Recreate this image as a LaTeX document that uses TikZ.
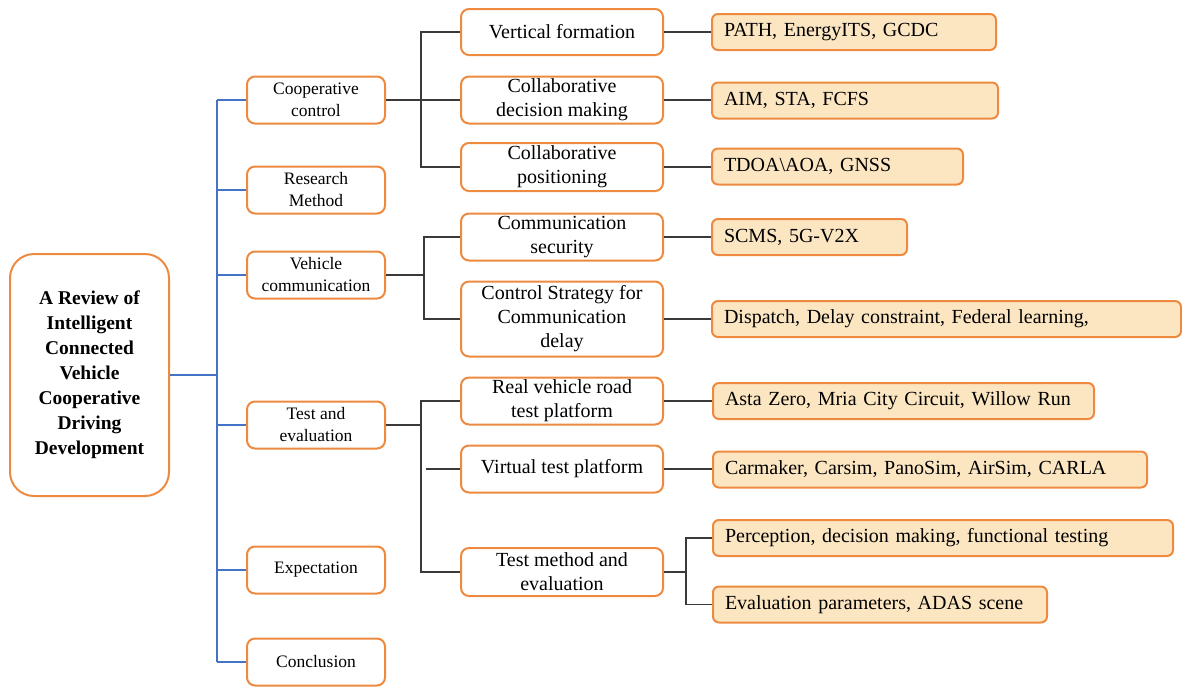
\documentclass[tikz,border=0pt]{standalone}
\usepackage{fontspec}
\setmainfont{Liberation Serif}[BoldFont={Liberation Serif Bold}]
\definecolor{borange}{HTML}{EE8A40}
\definecolor{pfill}{HTML}{FCE6C2}
\definecolor{bline}{HTML}{4472C4}
\definecolor{gline}{HTML}{3A3A3A}
\tikzset{
  rootbox/.style={draw=borange, line width=2pt, rounded corners=24pt, fill=white,
    minimum width=159pt, minimum height=242pt, align=center, inner sep=0pt,
    font=\rmfamily\fontsize{19.5}{25}\selectfont\bfseries},
  lonebox/.style={draw=borange, line width=2pt, rounded corners=8pt, fill=white,
    minimum width=138pt, minimum height=47pt, align=center, inner sep=0pt,
    font=\rmfamily\fontsize{17.5}{22}\selectfont},
  ltwobox/.style={draw=borange, line width=2pt, rounded corners=8pt, fill=white,
    minimum width=202pt, align=center, inner sep=0pt,
    font=\rmfamily\fontsize{20}{24}\selectfont},
  lthreebox/.style={draw=borange, line width=2pt, rounded corners=6pt, fill=pfill,
    minimum height=36pt, anchor=west, align=left, inner xsep=12pt, inner ysep=0pt,
    font=\rmfamily\fontsize{20}{24}\selectfont},
  bluecon/.style={draw=bline, line width=2pt},
  graycon/.style={draw=gline, line width=1.5pt},
}
\begin{document}
\begin{tikzpicture}[x=1pt, y=-1pt]
\useasboundingbox (0,0) rectangle (1182,688);

% root
\node[rootbox] (root) at (89.5,375) {A Review of\\Intelligent\\Connected\\Vehicle\\Cooperative\\Driving\\Development};

% level 1
\node[lonebox] (cc) at (316,100) {Cooperative\\control};
\node[lonebox] (rm) at (316,190) {Research\\Method};
\node[lonebox] (vc) at (316,275) {Vehicle\\communication};
\node[lonebox] (te) at (316,425) {Test and\\evaluation};
\node[lonebox] (ex) at (316,570) {Expectation};
\node[lonebox] (co) at (316,662) {Conclusion};

% level 2
\node[ltwobox, minimum height=46pt] (vf) at (562,32) {Vertical formation};
\node[ltwobox, minimum height=47pt] (cdm) at (562,100) {Collaborative\\decision making};
\node[ltwobox, minimum height=48pt] (cp) at (562,167) {Collaborative\\positioning};
\node[ltwobox, minimum height=47pt] (cs) at (562,237) {Communication\\security};
\node[ltwobox, minimum height=75pt] (csd) at (562,319) {Control Strategy for\\Communication\\delay};
\node[ltwobox, minimum height=47pt] (rv) at (562,401) {Real vehicle road\\test platform};
\node[ltwobox, minimum height=47pt] (vt) at (562,469) {Virtual test platform};
\node[ltwobox, minimum height=48pt] (tm) at (562,572) {Test method and\\evaluation};

% level 3 (text width = box width - 24)
\node[lthreebox, text width=260pt] (pa) at (711,32) {PATH, EnergyITS, GCDC};
\node[lthreebox, text width=262pt] (ai) at (711,100.5) {AIM, STA, FCFS};
\node[lthreebox, text width=227pt] (td) at (711,166.5) {TDOA\textbackslash AOA, GNSS};
\node[lthreebox, text width=171pt] (sc) at (711,237) {SCMS, 5G-V2X};
\node[lthreebox, text width=445pt] (di) at (711,319) {Dispatch, Delay constraint, Federal learning,};
\node[lthreebox, text width=357pt] (as) at (712,401) {Asta Zero, Mria City Circuit, Willow Run};
\node[lthreebox, text width=410pt] (cm) at (712,469.5) {Carmaker, Carsim, PanoSim, AirSim, CARLA};
\node[lthreebox, text width=436pt] (pe) at (712,538) {Perception, decision making, functional testing};
\node[lthreebox, text width=310pt] (ev) at (712,604.5) {Evaluation parameters, ADAS scene};

% junction x positions
\coordinate (bx) at (217,0);
\coordinate (jcc) at (421,0);
\coordinate (jvc) at (424,0);
\coordinate (jte) at (421,0);
\coordinate (jvg) at (426,0);
\coordinate (jtm) at (686,0);

% blue connectors
\draw[bluecon] (root.east) -- (root.east -| bx);
\draw[bluecon] (bx |- cc.west) -- (bx |- co.west);
\foreach \n in {cc,rm,vc,te,ex,co} \draw[bluecon] (bx |- \n.west) -- (\n.west);

% cooperative control
\draw[graycon] (cc.east) -- (cdm.west);
\draw[graycon] (vf.west) -- (vf.west -| jcc) -- (jcc |- cp.west) -- (cp.west);

% vehicle communication
\draw[graycon] (vc.east) -- (vc.east -| jvc);
\draw[graycon] (cs.west) -- (cs.west -| jvc) -- (jvc |- csd.west) -- (csd.west);

% test and evaluation
\draw[graycon] (te.east) -- (te.east -| jte);
\draw[graycon] (rv.west) -- (rv.west -| jte) -- (jte |- tm.west) -- (tm.west);
\draw[graycon] (vt.west -| jvg) -- (vt.west);

% level 2 to level 3
\draw[graycon] (vf.east) -- (vf.east -| pa.west);
\draw[graycon, line width=2pt] (cdm.east) -- (cdm.east -| ai.west);
\draw[graycon] (cp.east) -- (cp.east -| td.west);
\draw[graycon] (cs.east) -- (cs.east -| sc.west);
\draw[graycon] (csd.east) -- (csd.east -| di.west);
\draw[graycon] (rv.east) -- (rv.east -| as.west);
\draw[graycon] (vt.east) -- (vt.east -| cm.west);
\draw[graycon] (tm.east) -- (tm.east -| jtm);
\draw[graycon] (pe.west) -- (pe.west -| jtm) -- (jtm |- ev.west) -- (ev.west);
\end{tikzpicture}
\end{document}
